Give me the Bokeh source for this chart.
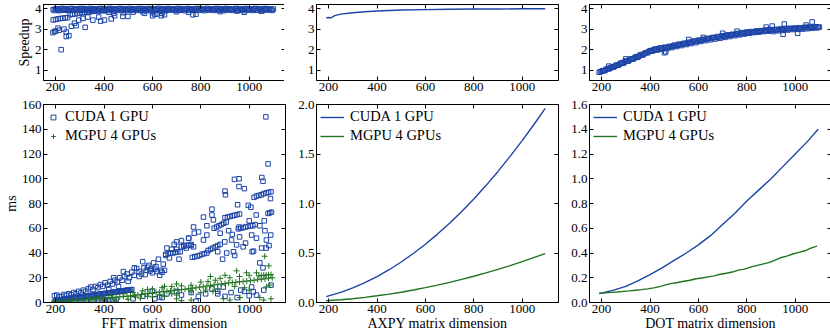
from bokeh.plotting import figure
from bokeh.layouts import gridplot
from bokeh.models import (Range1d, FixedTicker, LinearAxis, Legend, LegendItem,
                          NumeralTickFormatter, CustomJSTickFormatter)
from bokeh.embed import file_html
from bokeh.resources import INLINE

BLUE = "#1c44a6"
GREEN = "#1f721f"
FONT = "Liberation Serif"

# ---------------- tick values ----------------
X_TICKS = [200, 400, 600, 800, 1000]
SPEEDUP_TICKS = [1, 2, 3, 4]
FFT_MS_TICKS = [0, 20, 40, 60, 80, 100, 120, 140, 160]
AXPY_MS_TICKS = [0.0, 0.5, 1.0, 1.5, 2.0]
DOT_MS_TICKS = [0.0, 0.2, 0.4, 0.6, 0.8, 1.0, 1.2, 1.4, 1.6]

X_LABELS = ["FFT matrix dimension", "AXPY matrix dimension", "DOT matrix dimension"]
SERIES = ["CUDA 1 GPU", "MGPU 4 GPUs"]

# ---------------- FFT speedup (top left) ----------------
SP_FFT_BAND_X = [190, 200, 210, 220, 230, 240, 250, 260, 270, 280, 290, 300, 310, 320, 330, 340,
                 350, 360, 370, 380, 390, 400, 410, 420, 430, 440, 450, 460, 470, 480, 490, 500,
                 510, 520, 530, 540, 550, 560, 570, 580, 590, 600, 610, 620, 630, 640, 650, 660,
                 670, 680, 690, 700, 710, 720, 730, 740, 750, 760, 770, 780, 790, 800, 810, 820,
                 830, 840, 850, 860, 870, 880, 890, 900, 910, 920, 930, 940, 950, 960, 970, 980,
                 990, 1000, 1010, 1020, 1030, 1040, 1050, 1060, 1070, 1080, 1090, 1100]
SP_FFT_BAND_Y = [3.95, 3.99, 3.93, 3.98, 3.96, 4.00, 3.94, 3.98, 3.92, 3.99, 3.96, 3.98, 3.93, 4.00, 3.95, 3.97,
                 3.94, 3.99, 3.96, 3.98, 3.93, 4.00, 3.95, 3.98, 3.94, 3.99, 3.96, 3.98, 3.93, 4.00, 3.95, 3.97,
                 3.94, 3.99, 3.96, 3.98, 3.93, 4.00, 3.95, 3.98, 3.94, 3.99, 3.96, 3.98, 3.93, 4.00, 3.95, 3.97,
                 3.94, 3.99, 3.96, 3.98, 3.93, 4.00, 3.95, 3.98, 3.94, 3.99, 3.96, 3.98, 3.93, 4.00, 3.95, 3.97,
                 3.94, 3.99, 3.96, 3.98, 3.93, 4.00, 3.95, 3.98, 3.94, 3.99, 3.96, 3.98, 3.93, 4.00, 3.95, 3.97,
                 3.94, 3.99, 3.96, 3.98, 3.93, 4.00, 3.95, 3.98, 3.94, 3.99, 3.96, 3.98]
SP_FFT_BAND2_X = [195, 205, 215, 225, 235, 245, 255, 265, 275, 285, 295, 305, 315, 325, 335, 345,
                  355, 365, 375, 385, 395, 405, 415, 425, 435, 445, 455, 465, 475, 485, 495, 505,
                  515, 525, 535, 545, 555, 565, 575, 585, 595, 605, 615, 625, 635, 645, 655, 665,
                  675, 685, 695, 705, 715, 725, 735, 745, 755, 765, 775, 785, 795, 805, 815, 825,
                  835, 845, 855, 865, 875, 885, 895, 905, 915, 925, 935, 945, 955, 965, 975, 985,
                  995, 1005, 1015, 1025, 1035, 1045, 1055, 1065, 1075, 1085, 1095]
SP_FFT_BAND2_Y = [3.91, 3.97, 3.90, 4.01, 3.92, 3.97, 3.90, 4.01, 3.93, 3.96, 3.91, 4.01, 3.92, 3.97, 3.90, 4.01,
                  3.93, 3.96, 3.91, 4.01, 3.92, 3.97, 3.90, 4.01, 3.93, 3.96, 3.91, 4.01, 3.92, 3.97, 3.90, 4.01,
                  3.93, 3.96, 3.91, 4.01, 3.92, 3.97, 3.90, 4.01, 3.93, 3.96, 3.91, 4.01, 3.92, 3.97, 3.90, 4.01,
                  3.93, 3.96, 3.91, 4.01, 3.92, 3.97, 3.90, 4.01, 3.93, 3.96, 3.91, 4.01, 3.92, 3.97, 3.90, 4.01,
                  3.93, 3.96, 3.91, 4.01, 3.92, 3.97, 3.90, 4.01, 3.93, 3.96, 3.91, 4.01, 3.92, 3.97, 3.90, 4.01,
                  3.93, 3.96, 3.91, 4.01, 3.92, 3.97, 3.90, 4.01, 3.93, 3.96, 3.91]
SP_FFT_OTHER = [(190, 3.45), (200, 3.47), (210, 3.50), (220, 3.52), (230, 3.53), (240, 3.55), (250, 3.56),
                (260, 3.70), (270, 3.72), (280, 3.74), (290, 3.76), (300, 3.78), (310, 3.80), (320, 3.81),
                (330, 3.83), (340, 3.84), (350, 3.86), (360, 3.87), (380, 3.88), (400, 3.89), (420, 3.82),
                (440, 3.78), (480, 3.80), (520, 3.83), (560, 3.85), (600, 3.80), (610, 3.72), (620, 3.74),
                (640, 3.78), (650, 3.70), (700, 3.85), (750, 3.82), (780, 3.73), (880, 3.85), (950, 3.88),
                (980, 3.82), (1050, 3.87), (189, 2.83), (196, 2.89), (210, 3.05), (223, 2.00), (244, 2.64),
                (255, 2.68), (244, 2.86), (265, 3.14), (278, 3.29), (285, 3.17), (296, 3.44), (313, 3.52),
                (322, 3.09), (333, 3.59), (354, 3.44), (378, 3.59), (386, 3.39), (402, 3.44), (430, 3.50),
                (444, 3.65), (478, 3.62), (499, 3.62), (567, 3.77), (601, 3.65), (636, 3.65), (767, 3.70),
                (200, 2.90), (215, 2.95), (235, 3.00)]

# ---------------- AXPY speedup (top middle) ----------------
SP_AXPY_X = [190, 200, 210, 225, 250, 300, 350, 400, 450, 500, 600, 700, 800, 900, 1000, 1095]
SP_AXPY_Y = [3.55, 3.57, 3.55, 3.66, 3.73, 3.80, 3.85, 3.88, 3.91, 3.93, 3.95, 3.97, 3.98, 3.98, 3.99, 3.99]

# ---------------- DOT speedup (top right) ----------------
SP_DOT_X = SP_FFT_BAND_X
SP_DOT_Y = [0.90, 0.95, 0.97, 1.05, 1.06, 1.14, 1.15, 1.24, 1.25, 1.35, 1.34, 1.45, 1.44, 1.55, 1.54, 1.64,
            1.63, 1.74, 1.74, 1.84, 1.85, 1.95, 1.93, 2.03, 1.98, 2.08, 2.03, 2.12, 2.05, 2.16, 2.10, 2.22,
            2.15, 2.27, 2.20, 2.31, 2.25, 2.36, 2.30, 2.42, 2.34, 2.46, 2.40, 2.50, 2.44, 2.55, 2.48, 2.60,
            2.52, 2.64, 2.56, 2.68, 2.60, 2.72, 2.64, 2.75, 2.68, 2.79, 2.72, 2.83, 2.76, 2.86, 2.80, 2.88,
            2.83, 2.91, 2.85, 2.93, 2.88, 2.96, 2.90, 2.98, 2.88, 2.99, 2.92, 3.01, 2.94, 3.03, 2.96, 3.04,
            2.98, 3.05, 2.99, 3.07, 3.00, 3.09, 3.02, 3.10, 3.04, 3.12, 3.06, 3.10]
SP_DOT_X2 = SP_FFT_BAND2_X
SP_DOT_Y2 = [0.92, 0.98, 1.00, 1.08, 1.10, 1.16, 1.20, 1.26, 1.30, 1.36, 1.40, 1.46, 1.50, 1.56, 1.59, 1.66,
             1.69, 1.76, 1.79, 1.86, 1.90, 1.96, 1.98, 2.02, 2.03, 2.07, 2.08, 2.10, 2.12, 2.15, 2.17, 2.20,
             2.22, 2.25, 2.27, 2.30, 2.32, 2.35, 2.37, 2.40, 2.42, 2.45, 2.47, 2.50, 2.52, 2.54, 2.56, 2.58,
             2.60, 2.62, 2.64, 2.66, 2.68, 2.70, 2.72, 2.73, 2.75, 2.77, 2.79, 2.80, 2.82, 2.84, 2.85, 2.87,
             2.88, 2.90, 2.91, 2.92, 2.94, 2.95, 2.96, 2.95, 2.96, 2.97, 2.98, 2.99, 3.00, 3.01, 3.02, 3.03,
             3.03, 3.04, 3.05, 3.06, 3.07, 3.08, 3.08, 3.09, 3.10, 3.11, 3.10]
SP_DOT_OTHER = [(460, 1.85), (465, 1.90), (955, 3.25), (1070, 3.35), (1010, 2.80), (950, 2.75), (905, 3.15),
                (880, 3.10), (1045, 3.20), (300, 1.55), (230, 1.20), (560, 2.50), (620, 2.60), (700, 2.80),
                (760, 2.90)]

# ---------------- FFT times (bottom left) ----------------
FFT_CUDA = [
    (200, 1.5), (210, 1.8), (220, 2.1), (230, 2.3), (240, 2.6), (250, 2.9), (260, 3.2), (270, 3.5),
    (280, 3.8), (290, 4.0), (300, 4.3), (310, 4.6), (320, 4.9), (330, 5.2), (340, 5.5), (350, 5.7),
    (360, 6.0), (370, 6.3), (380, 6.6), (390, 6.9), (400, 7.2), (410, 7.4), (420, 7.7), (430, 8.0),
    (440, 8.3), (450, 8.6), (460, 8.9), (470, 9.2), (480, 9.4), (490, 9.7), (500, 10.0), (510, 10.3),
    (205, 1.6), (215, 2.0), (225, 2.2), (235, 2.5), (245, 2.8), (255, 3.0), (265, 3.3), (275, 3.6),
    (285, 3.9), (295, 4.2), (305, 4.5), (315, 4.8), (325, 5.0), (335, 5.3), (345, 5.6), (355, 5.9),
    (365, 6.2), (375, 6.5), (385, 6.8), (395, 7.0), (405, 7.3), (415, 7.6), (425, 7.9), (435, 8.2),
    (445, 8.5), (455, 8.7), (465, 9.0), (475, 9.3), (485, 9.6), (495, 9.9), (505, 10.1), (515, 10.5),
    (195, 0.4), (210, 0.5), (225, 0.6), (240, 0.7), (255, 0.8), (270, 0.9), (285, 1.0), (300, 1.2),
    (315, 1.3), (330, 1.4), (345, 1.5), (360, 1.6), (375, 1.8), (390, 1.9), (405, 2.0), (420, 2.2),
    (435, 2.3), (450, 2.5),
    (195, 5.5), (205, 6.0), (215, 4.5), (225, 5.0), (235, 6.5), (245, 5.8), (255, 7.0), (265, 6.2),
    (275, 8.0), (285, 7.0), (295, 9.0), (305, 8.0), (315, 10.0), (325, 9.0), (335, 11.0), (345, 12.5),
    (355, 10.5), (365, 13.0), (375, 12.0), (385, 14.5), (395, 13.0), (405, 16.0), (415, 14.0), (425, 17.0),
    (435, 15.0), (445, 18.0), (455, 16.5), (465, 20.0), (475, 18.0), (485, 21.0), (495, 23.0), (505, 20.0),
    (515, 24.5), (525, 22.0), (535, 27.5), (545, 25.0), (555, 23.0), (565, 28.0), (575, 26.0), (585, 30.0),
    (595, 27.0), (605, 32.0), (615, 29.0), (625, 35.0), (635, 26.0), (645, 31.0), (655, 38.0), (525, 28.0),
    (480, 25.0), (440, 20.0), (560, 33.0), (600, 24.0), (620, 25.0), (640, 24.5), (630, 22.0), (650, 26.0),
    (590, 25.5), (610, 27.0), (580, 28.5), (570, 22.5), (545, 21.0), (500, 17.0), (460, 13.0), (420, 11.0),
    (655, 39.0), (665, 39.5), (675, 40.0), (685, 40.0), (695, 40.5), (705, 41.0), (715, 41.0),
    (660, 44.0), (670, 36.0), (690, 47.0), (700, 43.0), (710, 35.0), (720, 50.0), (730, 46.0), (740, 44.0),
    (750, 52.0), (760, 46.0), (700, 49.0), (680, 43.0),
    (720, 45.0), (730, 45.5), (740, 46.0), (750, 46.5), (760, 47.0), (770, 45.0),
    (765, 36.5), (775, 37.0), (785, 37.5), (795, 38.0), (805, 39.0), (815, 39.5), (825, 40.0),
    (830, 42.0), (840, 43.0), (850, 44.0), (860, 45.0), (870, 46.0), (880, 47.0),
    (855, 60.0), (865, 61.0), (875, 62.0), (885, 63.0), (895, 64.0), (905, 65.0),
    (900, 68.5), (910, 69.0), (920, 69.5), (930, 70.0), (940, 70.5), (950, 71.0), (960, 71.5),
    (955, 59.5), (965, 60.0), (975, 60.5), (985, 61.0), (995, 61.5), (1005, 62.0), (1015, 62.0),
    (1012, 41.0), (1018, 41.5),
    (1020, 85.0), (1030, 86.0), (1040, 86.5), (1050, 87.0), (1060, 88.0), (1070, 88.5), (1080, 89.0),
    (1090, 89.5), (1078, 72.0), (1085, 72.5), (1092, 73.0),
    (1069, 150.0), (1078, 112.0), (900, 90.0), (902, 87.0), (939, 99.5), (958, 100.0), (958, 93.7),
    (980, 92.0), (1052, 101.0), (1057, 98.0), (952, 79.0), (996, 78.5), (1007, 77.0), (1029, 70.7),
    (1024, 63.0), (1044, 62.0), (1062, 66.0), (1088, 84.0), (1089, 54.5), (1071, 50.5), (1010, 54.5),
    (948, 46.6), (935, 41.0), (907, 40.0), (975, 45.0), (1051, 44.0), (1057, 28.0), (1044, 32.0),
    (1010, 12.5), (811, 69.0), (846, 70.7), (852, 66.8), (825, 62.0), (770, 61.0), (773, 56.0),
    (791, 57.0), (811, 50.5), (825, 54.5), (750, 52.0), (899, 49.0), (927, 50.5), (958, 61.0),
    (846, 75.4), (880, 56.0), (915, 58.0), (940, 38.0), (985, 48.0), (1000, 66.0), (1030, 52.0),
    (1065, 58.0), (1082, 46.0), (870, 41.0), (890, 35.0), (930, 55.0), (960, 53.0), (1070, 44.0),
    (846, 11.0), (893, 12.5), (870, 7.0), (900, 5.0), (925, 8.0), (950, 4.0), (980, 9.0), (1000, 5.5),
    (1030, 6.0), (760, 8.0), (790, 5.0), (820, 7.0), (700, 9.0), (720, 6.0), (660, 7.0), (640, 4.0),
    (600, 9.0), (560, 5.0), (520, 3.0), (1060, 10.0), (1090, 14.0), (610, 3.0), (630, 4.5), (780, 1.0),
    (870, 9.0), (965, 10.0), (1017, 8.6),
]
FFT_MGPU = [
    (195, 0.8), (210, 0.9), (225, 1.0), (240, 1.2), (255, 1.3), (270, 1.5), (285, 1.7), (300, 1.9),
    (315, 2.1), (330, 2.3), (345, 2.5), (360, 2.7), (375, 2.9), (390, 3.1), (405, 3.4), (420, 3.6),
    (435, 3.9), (450, 4.2), (465, 4.5), (480, 4.8), (495, 5.1), (510, 5.4), (525, 5.8), (540, 6.1),
    (555, 6.5), (570, 6.9), (585, 7.3), (600, 7.7), (615, 8.1), (630, 8.5), (645, 8.8), (660, 9.1),
    (675, 9.5), (690, 9.8), (705, 10.1), (720, 10.4), (735, 10.7), (750, 11.1), (765, 11.5), (780, 11.9),
    (795, 12.4), (810, 12.8), (825, 13.3), (840, 13.8), (855, 14.2), (870, 14.6), (885, 15.0), (900, 15.4),
    (915, 15.8), (930, 16.1), (945, 16.4), (960, 16.7), (975, 17.0), (990, 17.3), (1005, 17.6), (1020, 18.0),
    (1035, 18.4), (1050, 18.8), (1065, 19.2), (1080, 19.6), (1095, 20.0),
    (1040, 21.5), (1050, 21.8), (1060, 22.0), (1070, 22.2), (1080, 22.4), (1090, 22.6),
    (520, 8.0), (560, 9.5), (600, 11.0), (640, 12.0), (680, 13.0), (720, 13.5), (760, 14.0), (800, 16.5),
    (830, 17.0), (860, 18.0), (880, 19.5), (920, 20.0), (948, 25.6), (989, 24.0), (1064, 37.4), (1081, 29.6),
    (1000, 22.0), (1030, 24.0), (900, 22.0), (960, 21.0), (840, 21.0), (700, 15.0), (650, 13.0), (580, 10.5),
    (480, 7.0), (430, 6.0), (380, 4.5), (340, 3.5),
    (400, 1.5), (450, 2.0), (500, 2.5), (550, 3.5), (600, 4.5), (650, 5.0), (700, 6.0), (720, 1.5),
    (760, 2.0), (800, 8.0), (850, 9.0), (893, 3.0), (920, 2.0), (962, 4.0), (1000, 10.0), (1044, 4.0),
    (1071, 12.6), (1085, 14.0), (1060, 2.0), (1090, 3.0), (980, 12.0), (940, 13.0), (870, 11.0), (820, 10.0),
    (760, 8.5), (700, 3.0), (680, 7.0), (630, 6.0), (580, 5.0), (530, 4.5),
]

# ---------------- AXPY times (bottom middle) ----------------
AXPY_X = [190, 250, 300, 350, 400, 450, 500, 550, 600, 650, 700, 750, 800, 850, 900, 950, 1000, 1050, 1095]
AXPY_CUDA = [0.059, 0.102, 0.147, 0.200, 0.262, 0.331, 0.409, 0.495, 0.589, 0.691, 0.801, 0.920, 1.046,
             1.181, 1.324, 1.476, 1.635, 1.803, 1.960]
AXPY_MGPU = [0.017, 0.028, 0.038, 0.052, 0.068, 0.085, 0.104, 0.126, 0.150, 0.175, 0.203, 0.233, 0.265,
             0.299, 0.335, 0.373, 0.413, 0.455, 0.494]

# ---------------- DOT times (bottom right) ----------------
DOT_CUDA_X = [190, 250, 300, 350, 400, 450, 500, 550, 600, 650, 700, 750, 800, 850, 900, 950, 1000, 1050, 1095]
DOT_CUDA = [0.072, 0.10, 0.13, 0.175, 0.225, 0.28, 0.34, 0.40, 0.466, 0.54, 0.63, 0.72, 0.82, 0.91, 1.00,
            1.10, 1.20, 1.30, 1.40]
DOT_MGPU_X = [190, 215, 240, 265, 290, 315, 340, 365, 390, 415, 440, 465, 490, 515, 540, 565, 590, 615, 640,
              665, 690, 715, 740, 765, 790, 815, 840, 865, 890, 915, 940, 965, 990, 1015, 1040, 1065, 1090]
DOT_MGPU = [0.075, 0.078, 0.082, 0.085, 0.090, 0.094, 0.099, 0.104, 0.110, 0.118, 0.128, 0.142, 0.155, 0.162,
            0.172, 0.180, 0.192, 0.198, 0.207, 0.215, 0.228, 0.236, 0.246, 0.262, 0.270, 0.286, 0.298, 0.310,
            0.322, 0.340, 0.362, 0.375, 0.392, 0.405, 0.418, 0.440, 0.455]

# ---------------- layout ----------------
FW = 242
H_TOP = 97
H_BOT = 236


def style_axis(ax, ticks, fmt=None):
    ax.ticker = FixedTicker(ticks=ticks, minor_ticks=[])
    ax.major_tick_in = 4
    ax.major_tick_out = 0
    ax.minor_tick_in = 0
    ax.minor_tick_out = 0
    ax.axis_line_color = "black"
    ax.major_tick_line_color = "black"
    ax.major_label_text_font = FONT
    ax.major_label_text_font_size = "13px"
    ax.major_label_text_color = "black"
    ax.major_label_standoff = 2
    ax.axis_label_text_font = FONT
    ax.axis_label_text_font_size = "14px"
    ax.axis_label_text_font_style = "normal"
    ax.axis_label_text_color = "black"
    ax.axis_label_standoff = 0
    if fmt is not None:
        ax.formatter = fmt


def mirror_axis(ticks):
    ax = LinearAxis(ticker=FixedTicker(ticks=ticks, minor_ticks=[]),
                    formatter=CustomJSTickFormatter(code="return ''"))
    ax.major_tick_in = 4
    ax.major_tick_out = 0
    ax.minor_tick_in = 0
    ax.minor_tick_out = 0
    ax.major_label_text_font_size = "0px"
    ax.major_label_standoff = 0
    ax.axis_line_color = "black"
    ax.major_tick_line_color = "black"
    return ax


def make_fig(yr, yticks, fmt, h, left, right, top, bottom, xlabel=None, ylabel=None):
    p = figure(output_backend="svg", toolbar_location=None,
               frame_width=FW, height=h,
               x_range=Range1d(150, 1150), y_range=Range1d(*yr),
               min_border_left=left, min_border_right=right,
               min_border_top=top, min_border_bottom=bottom,
               background_fill_color="white", border_fill_color="white",
               outline_line_color="black")
    p.grid.visible = False
    style_axis(p.xaxis[0], X_TICKS)
    style_axis(p.yaxis[0], yticks, fmt)
    if xlabel:
        p.xaxis[0].axis_label = xlabel
    if ylabel:
        p.yaxis[0].axis_label = ylabel
    p.add_layout(mirror_axis(X_TICKS), "above")
    p.add_layout(mirror_axis(yticks), "right")
    return p


def add_legend(p, renderers, glyph_w):
    lg = Legend(items=[LegendItem(label=SERIES[0], renderers=[renderers[0]]),
                       LegendItem(label=SERIES[1], renderers=[renderers[1]])],
                location="top_left", border_line_color=None, background_fill_alpha=0,
                label_text_font=FONT, label_text_font_size="14.5px", label_text_color="black",
                glyph_width=glyph_w, glyph_height=14, label_height=14, spacing=2,
                margin=4, padding=5, label_standoff=6)
    p.add_layout(lg)


SQ = dict(marker="square", size=4.5, line_color=BLUE, fill_color=None, line_width=1)

# top row
p1 = make_fig((0.5, 4.2), SPEEDUP_TICKS, NumeralTickFormatter(format="0"), H_TOP, 39, 3, 4, 17,
              ylabel="Speedup")
p1.scatter(SP_FFT_BAND_X, SP_FFT_BAND_Y, **SQ)
p1.scatter(SP_FFT_BAND2_X, SP_FFT_BAND2_Y, **SQ)
p1.scatter([q[0] for q in SP_FFT_OTHER], [q[1] for q in SP_FFT_OTHER], **SQ)

p2 = make_fig((0.5, 4.2), SPEEDUP_TICKS, NumeralTickFormatter(format="0"), H_TOP, 28, 3, 4, 17)
p2.line(SP_AXPY_X, SP_AXPY_Y, line_color=BLUE, line_width=1.4)

p3 = make_fig((0.5, 4.2), SPEEDUP_TICKS, NumeralTickFormatter(format="0"), H_TOP, 28, 1, 4, 17)
p3.scatter(SP_DOT_X, SP_DOT_Y, **SQ)
p3.scatter(SP_DOT_X2, SP_DOT_Y2, **SQ)
p3.scatter([q[0] for q in SP_DOT_OTHER], [q[1] for q in SP_DOT_OTHER], **SQ)

# bottom row
p4 = make_fig((0, 160), FFT_MS_TICKS, NumeralTickFormatter(format="0"), H_BOT, 39, 3, 7, 28,
              xlabel=X_LABELS[0], ylabel="ms")
rc = p4.scatter([q[0] for q in FFT_CUDA], [q[1] for q in FFT_CUDA], **SQ)
rm = p4.scatter([q[0] for q in FFT_MGPU], [q[1] for q in FFT_MGPU], marker="cross", size=6,
                line_color=GREEN, line_width=1)
add_legend(p4, [rc, rm], 12)

p5 = make_fig((0, 2.0), AXPY_MS_TICKS, NumeralTickFormatter(format="0.0"), H_BOT, 28, 3, 7, 28,
              xlabel=X_LABELS[1])
l1 = p5.line(AXPY_X, AXPY_CUDA, line_color=BLUE, line_width=1.4)
l2 = p5.line(AXPY_X, AXPY_MGPU, line_color=GREEN, line_width=1.4)
add_legend(p5, [l1, l2], 24)

p6 = make_fig((0, 1.6), DOT_MS_TICKS, NumeralTickFormatter(format="0.0"), H_BOT, 28, 1, 7, 28,
              xlabel=X_LABELS[2])
d1 = p6.line(DOT_CUDA_X, DOT_CUDA, line_color=BLUE, line_width=1.4)
d2 = p6.line(DOT_MGPU_X, DOT_MGPU, line_color=GREEN, line_width=1.4)
add_legend(p6, [d1, d2], 24)

grid = gridplot([[p1, p2, p3], [p4, p5, p6]], toolbar_location=None)

open("out.html", "w").write(file_html(grid, INLINE))
